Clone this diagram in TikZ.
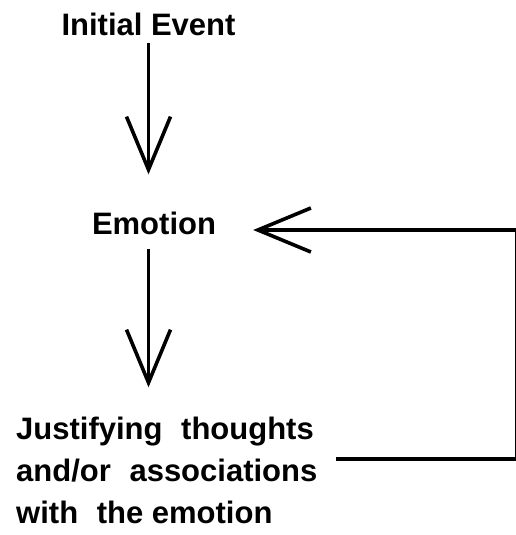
\documentclass[tikz,border=0pt]{standalone}
\usepackage{fontspec}
\setmainfont{Liberation Sans}
\usetikzlibrary{arrows.meta}
\tikzset{
  lbl/.style={inner sep=0pt, font=\bfseries\fontsize{31}{41.5}\selectfont},
  thick line/.style={line width=3.3pt},
  arr/.style={line width=3.3pt, -{Straight Barb[length=53pt,width=44pt,line width=3.6pt]}},
}
\begin{document}
\begin{tikzpicture}[x=1pt,y=1pt]
\useasboundingbox (0,0) rectangle (516,535);
\node[lbl, anchor=base] (ie) at (148.5,499) {Initial Event};
\node[lbl, anchor=base] (em) at (154,300) {Emotion};
\node[lbl, anchor=base west, align=left] (jn) at (16,12)
  {Justifying\hspace{0.6em}thoughts\\and/or\hspace{0.6em}associations\\with\hspace{0.6em}the emotion};
\coordinate (br) at (516.5,76);
\coordinate (tr) at (516.5,305);
\draw[arr, shorten <=7pt, shorten >=38pt] (ie.south) -- (ie.south |- em.north);
\draw[arr, shorten <=14pt, shorten >=30pt] (em.south -| ie.south) -- (jn.north -| ie.south);
\draw[thick line, shorten <=18pt] (jn.east |- br) -- (br) -- (tr);
\draw[arr, shorten >=37pt] (tr) -- (em.east |- tr);
\end{tikzpicture}
\end{document}
